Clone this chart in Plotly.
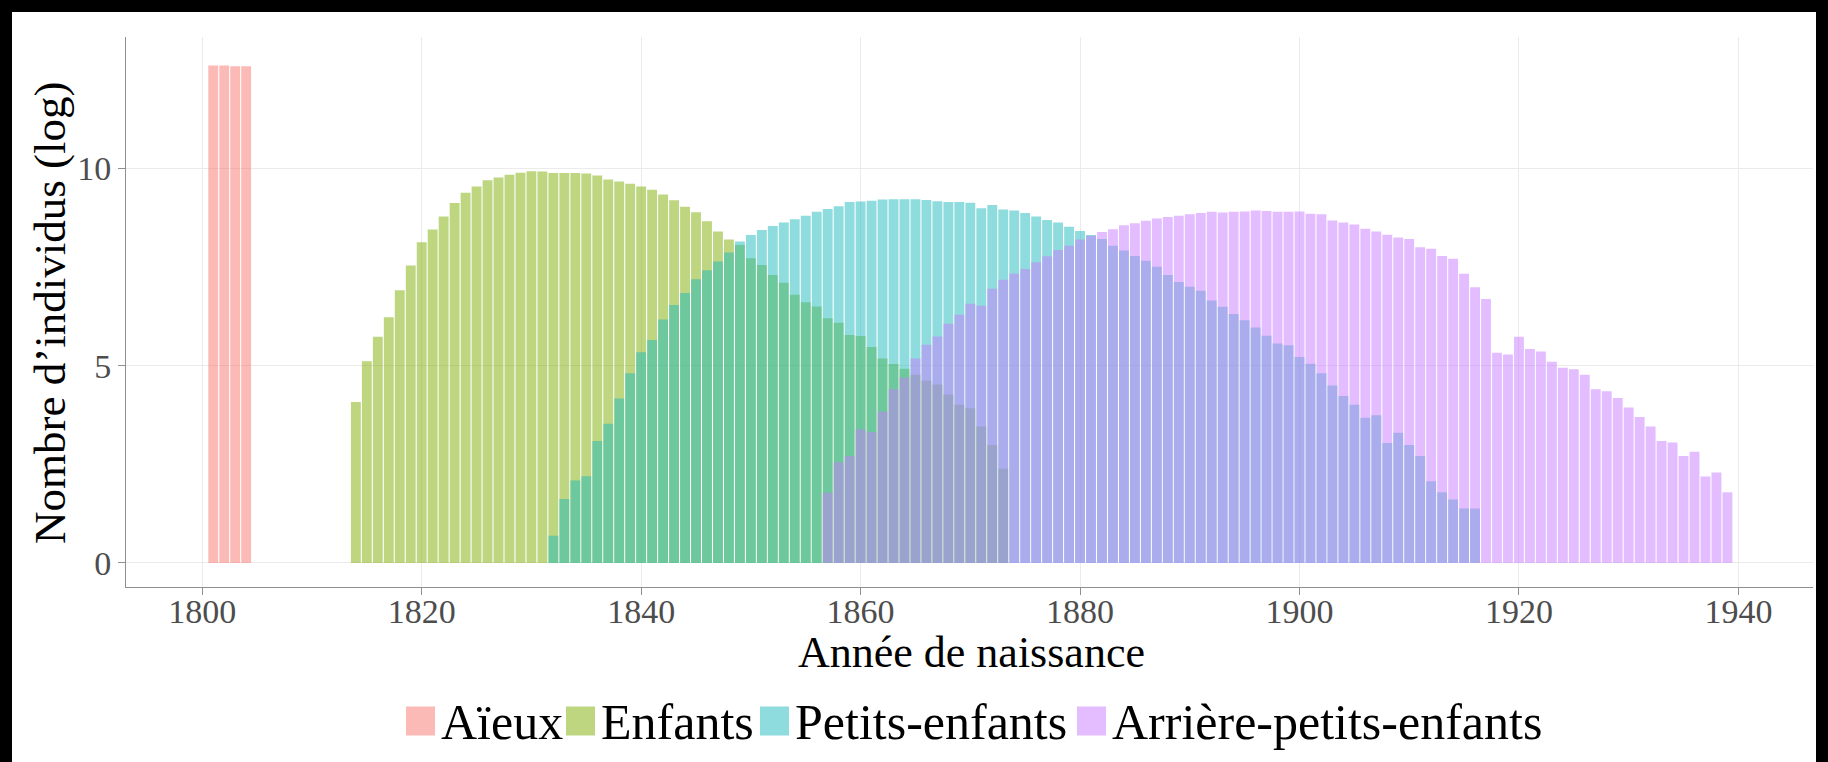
import plotly.graph_objects as go

# ---------------- data ----------------
series_names = ["Aïeux", "Enfants", "Petits-enfants", "Arrière-petits-enfants"]
x_title = "Année de naissance"
y_title = "Nombre d’individus (log)"

aieux_years = list(range(1801, 1805))
aieux_vals = [12.61, 12.61, 12.59, 12.59]

enfants_years = list(range(1814, 1874))
enfants_vals = [4.08, 5.11, 5.73, 6.23, 6.91, 7.54, 8.13, 8.45, 8.78, 9.12,
                9.38, 9.54, 9.70, 9.77, 9.84, 9.89, 9.93, 9.92, 9.88, 9.88,
                9.88, 9.87, 9.82, 9.72, 9.67, 9.61, 9.54, 9.46, 9.34, 9.19,
                9.03, 8.89, 8.66, 8.40, 8.20, 8.06, 7.72, 7.55, 7.30, 7.10,
                6.80, 6.61, 6.50, 6.20, 6.09, 5.78, 5.75, 5.47, 5.18, 5.04,
                4.92, 4.77, 4.62, 4.52, 4.27, 4.01, 3.92, 3.46, 2.99, 2.39]

petits_years = list(range(1832, 1917))
petits_vals = [0.69, 1.62, 2.09, 2.20, 3.09, 3.53, 4.17, 4.81, 5.34, 5.65,
               6.17, 6.54, 6.84, 7.19, 7.42, 7.64, 7.87, 8.15, 8.31, 8.44,
               8.54, 8.63, 8.71, 8.80, 8.90, 8.97, 9.04, 9.15, 9.16, 9.18,
               9.21, 9.22, 9.22, 9.22, 9.20, 9.17, 9.15, 9.15, 9.13, 8.99,
               9.07, 8.96, 8.93, 8.87, 8.78, 8.69, 8.63, 8.52, 8.41, 8.31,
               8.21, 8.04, 7.92, 7.78, 7.66, 7.51, 7.30, 7.12, 7.00, 6.90,
               6.65, 6.49, 6.31, 6.15, 5.97, 5.76, 5.56, 5.52, 5.22, 5.05,
               4.81, 4.50, 4.23, 4.01, 3.68, 3.74, 3.04, 3.30, 2.99, 2.71,
               2.07, 1.79, 1.61, 1.38, 1.38]

arriere_years = list(range(1857, 1940))
arriere_vals = [1.78, 2.55, 2.71, 3.39, 3.32, 3.84, 4.41, 4.70, 5.18, 5.53,
                5.74, 6.06, 6.29, 6.57, 6.52, 6.95, 7.18, 7.33, 7.45, 7.62,
                7.77, 7.93, 8.04, 8.20, 8.29, 8.39, 8.46, 8.56, 8.61, 8.67,
                8.73, 8.77, 8.80, 8.84, 8.87, 8.90, 8.88, 8.90, 8.91, 8.93,
                8.92, 8.90, 8.90, 8.91, 8.85, 8.84, 8.68, 8.63, 8.58, 8.47,
                8.40, 8.32, 8.25, 8.21, 8.00, 7.96, 7.78, 7.71, 7.33, 6.99,
                6.69, 5.33, 5.28, 5.73, 5.42, 5.36, 5.10, 4.95, 4.91, 4.77,
                4.40, 4.35, 4.18, 3.94, 3.70, 3.46, 3.09, 3.05, 2.71, 2.82,
                2.19, 2.29, 1.79]

x_tick_vals = [1800, 1820, 1840, 1860, 1880, 1900, 1920, 1940]
y_tick_vals = [0, 5, 10]

# ---------------- style ----------------
base_colors = [(248, 118, 109), (124, 174, 0), (30, 185, 188), (199, 124, 255)]
ALPHA = 0.5
fills = [f"rgba({r},{g},{b},{ALPHA})" for r, g, b in base_colors]
FONT = "Liberation Serif"
W, H = 1828, 762
ML, MR, MT, MB = 126, 15, 37, 175
PW, PH = W - ML - MR, H - MT - MB


def px2x(px):
    return (px - ML) / PW


def py2y(py):
    return (H - MB - py) / PH


fig = go.Figure()
all_series = [(aieux_years, aieux_vals), (enfants_years, enfants_vals),
              (petits_years, petits_vals), (arriere_years, arriere_vals)]
for (xs, ys), name, col in zip(all_series, series_names, fills):
    fig.add_trace(go.Bar(x=xs, y=ys, name=name, width=0.9,
                         marker=dict(color=col, line=dict(width=0)),
                         showlegend=False))

axis_gray = "#8F8F8F"
fig.update_layout(
    width=W, height=H, barmode="overlay",
    margin=dict(l=ML, r=MR, t=MT, b=MB, pad=0),
    paper_bgcolor="white", plot_bgcolor="white",
    font=dict(family=FONT, color="black"),
    xaxis=dict(range=[1793.05, 1946.8], tickvals=x_tick_vals,
               ticks="outside", ticklen=7, tickcolor=axis_gray, tickwidth=1,
               ticklabelstandoff=-13,
               showline=True, linecolor=axis_gray, linewidth=1,
               showgrid=True, gridcolor="#EBEBEB", gridwidth=1, zeroline=False,
               tickfont=dict(family=FONT, size=34, color="#4D4D4D")),
    yaxis=dict(range=[-0.61, 13.33], tickvals=y_tick_vals,
               ticks="outside", ticklen=7, tickcolor=axis_gray, tickwidth=1,
               showline=True, linecolor=axis_gray, linewidth=1,
               showgrid=True, gridcolor="#EBEBEB", gridwidth=1, zeroline=False,
               tickfont=dict(family=FONT, size=34, color="#4D4D4D")),
)

shapes = []
annotations = []

# axis titles
annotations.append(dict(text=x_title, xref="paper", yref="paper",
                        x=px2x(971), y=py2y(652), xanchor="center", yanchor="middle",
                        showarrow=False, font=dict(family=FONT, size=44, color="black")))
annotations.append(dict(text=y_title, xref="paper", yref="paper", textangle=-90,
                        x=px2x(50), y=py2y(313), xanchor="center", yanchor="middle",
                        showarrow=False, font=dict(family=FONT, size=45, color="black")))

# custom legend (large swatches like the reference)
legend_swatch_px = [406, 566, 760, 1077]
SW = 29
LEG_CY = 721
for sx, name, col in zip(legend_swatch_px, series_names, fills):
    shapes.append(dict(type="rect", xref="paper", yref="paper",
                       x0=px2x(sx), x1=px2x(sx + SW),
                       y0=py2y(LEG_CY + SW / 2), y1=py2y(LEG_CY - SW / 2),
                       fillcolor=col, line=dict(width=0), layer="above"))
    annotations.append(dict(text=name, xref="paper", yref="paper",
                            x=px2x(sx + SW + 4), y=py2y(LEG_CY + 1),
                            xanchor="left", yanchor="middle", showarrow=False,
                            font=dict(family=FONT, size=50, color="black")))

# black frame strips around the figure
BORD = 12
for (a, b, c, d) in [(0, 0, W, BORD), (0, 0, BORD, H), (W - BORD, 0, W, H)]:
    shapes.append(dict(type="rect", xref="paper", yref="paper",
                       x0=px2x(a), x1=px2x(c), y0=py2y(d), y1=py2y(b),
                       fillcolor="black", line=dict(width=0), layer="above"))

fig.update_layout(shapes=shapes, annotations=annotations)
fig.write_html("out.html",
               config={"displayModeBar": False},
               post_script="document.body.style.margin='0px';"
                           "document.body.style.overflow='hidden';")
